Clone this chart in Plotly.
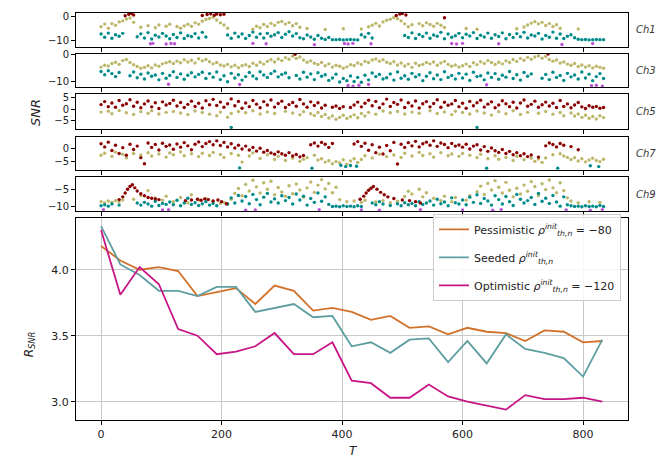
import plotly.graph_objects as go

N = None
# time steps for scatter panels (every 6th step)
T_GRID = list(range(0, 835, 6))
# time steps for R_SNR curves
T_LINE = [0, 32, 64, 96, 128, 160, 192, 224, 256, 288, 320, 352, 384, 416,
          448, 480, 512, 544, 576, 608, 640, 672, 704, 736, 768, 800, 832]

PESSIMISTIC = [4.18, 4.07, 4.00, 4.02, 3.99, 3.80, 3.83, 3.86, 3.74, 3.88, 3.84, 3.69, 3.71, 3.68,
               3.62, 3.65, 3.56, 3.57, 3.51, 3.56, 3.53, 3.52, 3.46, 3.54, 3.53, 3.45, 3.46]
SEEDED = [4.33, 4.04, 3.96, 3.84, 3.84, 3.80, 3.87, 3.87, 3.68, 3.71, 3.74, 3.64, 3.65, 3.42,
          3.45, 3.37, 3.47, 3.48, 3.30, 3.46, 3.29, 3.51, 3.40, 3.37, 3.33, 3.19, 3.47]
OPTIMISTIC = [4.30, 3.81, 4.02, 3.89, 3.55, 3.50, 3.36, 3.38, 3.42, 3.52, 3.36, 3.36, 3.45, 3.16,
              3.14, 3.03, 3.03, 3.13, 3.04, 3.00, 2.97, 2.94, 3.05, 3.02, 3.02, 3.03, 3.00]

# ---------------- Ch1 ----------------
CH1_TEAL = [
    -7.2, -8.5, -6.8, -8.9, -7.5, -8.1, -6.9, N, N, N,
    -8.3, -7.1, -8.8, -6.6, -9.2, -7.7, -8.4, -6.9, -8.0, -9.1,
    -7.4, -8.6, -6.7, -9.0, -7.9, -8.2, -7.0, -8.8, -6.5, -8.4,
    N, N, N, N, N, -7.6, -8.9, -6.8, -8.3, -7.2,
    -9.0, -7.8, -6.4, -8.5, -7.1, -8.8, -6.9, -8.1, -7.5, -6.6,
    -8.6, -7.3, -6.2, -8.0, -7.0, -8.7, -9.1, -7.6, -8.4, -9.3,
    -7.8, -8.9, -9.4, -8.6, -9.5, -9.5, -9.4, -9.6, -9.5, -9.4,
    -9.5, -9.6, -7.5, -8.4, -6.9, -8.8, N, N, N, N,
    N, N, N, N, -7.8, -8.6, -6.7, -9.0, -7.4, -8.2,
    -6.8, -8.9, -7.6, -8.1, -6.5, -9.1, -7.2, -8.5, -7.9, -6.9,
    -8.7, -7.3, -8.0, -6.6, -9.0, -7.7, -8.4, -6.8, -8.9, -7.5,
    -8.2, -6.7, -9.1, -7.4, -8.6, -7.0, -8.3, -6.5, -8.8, -7.6,
    -8.0, -6.9, -9.2, -7.8, -8.5, -6.4, -8.9, -7.2, -9.0, -8.1,
    -7.5, -8.7, -9.3, -9.5, -9.4, -9.6, -9.5, -9.4, -9.5, -9.5]
CH1_KHAKI = [
    -4.2, -3.1, -4.8, -2.9, -3.6, -2.2, -1.8, -1.0, -0.6, -2.4,
    N, -4.4, N, -3.8, N, -4.6, -3.5, N, -4.0, -3.2,
    N, -4.1, -4.8, -3.9, -3.2, -4.0, -2.6, -3.1, -1.9, -1.2,
    -0.8, -0.3, -1.4, -2.6, -3.5, -4.8, N, N, N, N,
    N, N, -5.2, -4.0, -4.6, -3.3, -4.1, -2.8, -3.6, -2.4,
    -2.0, -3.1, -2.5, -3.8, -2.9, -4.4, N, -4.9, N, N,
    N, N, -5.3, N, N, N, N, -5.0, N, N,
    N, N, -5.1, N, -4.2, -3.6, -2.8, -3.9, -2.2, -1.5,
    -1.1, -0.4, -0.9, -1.8, -3.0, -4.2, -3.4, N, -2.9, -3.8,
    -2.6, -3.3, -4.0, -2.8, -3.6, -4.5, N, N, N, N,
    N, -4.9, N, N, -5.2, N, N, N, N, N,
    N, N, N, N, N, -5.0, N, -4.3, -3.5, -2.7,
    -2.1, -3.0, -2.4, -3.7, -2.9, -4.1, -3.4, -4.8, N, N,
    N, N, -5.1, N, N, N, N, N, N, N]
CH1_RED_T = [40, 46, 50, 54, 168, 176, 182, 188, 192, 198, 204, 490, 496, 500, 506, 570]
CH1_RED = [0.3, 0.9, 1.2, 0.6, 0.4, 0.8, 1.1, 0.5, 1.0, 0.7, 0.9, 0.4, 1.0, 1.2, 0.6, -0.5]
CH1_VIO_T = [82, 86, 108, 116, 122, 252, 274, 354, 404, 410, 418, 448, 582, 590, 600, 660, 765, 816]
CH1_VIO = [-11.2, -11.0, -11.3, -11.1, -11.2, -11.0, -11.2, -11.6, -11.1, -11.3, -11.0,
           -11.2, -11.1, -11.3, -11.0, -11.2, -11.5, -11.1]

# ---------------- Ch3 ----------------
CH3_TEAL = [
    -6.2, -7.4, -5.9, -7.0, -8.1, -6.6, N, N, -7.8, -6.4,
    -8.5, -7.2, -9.0, -6.8, -8.0, -7.5, -9.3, -6.9, -8.7, -7.7,
    -6.3, -8.4, -7.1, -9.1, -7.6, -6.7, -8.2, -7.3, -6.5, -8.8,
    -7.0, -8.3, -6.4, -9.2, -7.8, -10.0, -6.9, -8.6, -7.4, -9.4,
    -8.1, -6.6, -7.9, -8.9, -6.3, -7.5, -8.4, -7.0, -6.1, -8.2,
    -7.3, -6.8, -8.5, N, -7.7, -9.0, -6.5, -8.3, -7.1, -9.2,
    -6.7, -8.0, -7.4, -9.5, -8.6, -7.2, -10.1, -8.8, -9.6, -7.9,
    -9.9, -8.4, -10.2, -7.6, -9.3, -6.8, -8.1, -7.3, -9.0, -8.5,
    -7.1, -9.4, -6.4, -8.7, -7.8, -9.1, -6.9, -8.2, -7.4, -9.6,
    -8.0, -6.7, -8.9, -7.5, -9.2, -6.3, -8.4, -7.7, -9.0, -6.9,
    -8.6, -7.2, -9.5, -6.5, -8.1, -7.8, -9.3, -6.8, -8.4, -7.0,
    -9.1, -7.6, -8.3, -6.2, -8.8, -7.4, -9.4, -6.6, -8.0, -7.1,
    N, N, -8.7, -7.3, -9.2, -6.5, -8.4, -7.7, -9.5, -6.9,
    -8.2, -7.5, -9.0, -6.4, -8.6, -7.2, -9.6, -8.1, -7.0, -8.8]
CH3_KHAKI = [
    -4.6, -3.9, -4.2, -3.3, -2.8, -3.6, -2.2, -1.8, -2.9, -3.7,
    -4.4, -5.0, -4.7, -4.1, -4.9, -3.8, -4.3, -3.4, -3.0, -2.6,
    -3.3, -2.4, -3.0, -1.9, -2.7, -2.1, -3.1, -1.5, -2.3, -1.8,
    -2.6, -3.4, -2.9, -3.8, -4.2, -3.6, -4.5, -3.9, -4.8, -4.1,
    -3.7, -4.4, -3.2, -3.9, -2.8, -3.5, -2.5, -1.9, -2.7, -1.6,
    -2.2, -1.1, -1.7, -0.6, -1.4, -0.9, -2.0, -2.8, -2.3, -3.2,
    -3.6, -2.9, -4.1, -3.4, -4.6, -3.9, -4.3, -5.0, -4.5, -3.7,
    -4.0, -3.1, -3.6, -2.5, -2.9, -2.0, -1.6, -2.4, -1.9, -2.8,
    -3.3, -2.6, -3.8, -3.1, -4.2, -3.5, -4.7, -3.2, -4.0, -3.6,
    -2.9, -3.4, -2.7, -3.9, -3.1, -2.5, -3.6, -4.3, -3.8, -4.6,
    -4.1, -3.5, -4.4, -3.0, -3.7, -2.6, -3.3, -2.2, -2.9, -3.6,
    -2.8, -3.4, -2.3, -2.9, -1.8, -2.5, -1.4, -2.1, -1.0, -1.7,
    -0.9, -0.4, -1.3, -0.7, -1.8, -2.4, -2.0, -3.1, -2.7, -3.5,
    -3.9, -3.3, -4.4, -3.8, -4.6, -4.1, -4.9, -4.3, -4.7, -5.0]
CH3_RED_T = [322, 742]
CH3_RED = [0.1, 0.2]
CH3_VIO_T = [112, 230, 410, 418, 428, 444, 640, 814, 822, 832]
CH3_VIO = [-10.9, -11.0, -11.4, -11.6, -11.3, -11.0, -11.1, -11.5, -11.3, -11.6]

# ---------------- Ch5 ----------------
CH5_RED = [
    2.1, 3.4, 1.2, 2.8, 0.9, 3.9, 1.8, 2.5, 4.2, 1.4,
    3.1, 0.7, 2.4, 3.7, 1.1, 2.9, 0.4, 3.3, 1.9, 2.6,
    4.0, 1.5, 3.0, 0.8, 2.2, 3.6, 1.3, 2.7, 0.6, 3.8,
    2.0, 4.4, 1.7, 3.2, 0.9, 2.5, 4.6, 1.6, 3.5, 0.5,
    2.8, 1.2, 3.9, 2.3, 0.7, 3.4, 1.9, 4.1, 1.0, 2.6,
    3.6, 0.8, 2.1, 3.0, 1.4, 4.3, 2.4, 0.9, 3.3, 1.7,
    2.9, 0.6, 1.8, N, 0.9, 1.5, 0.4, 1.2, N, 0.8,
    1.9, 3.2, 1.1, 2.7, 4.0, 1.6, 3.5, 0.7, 2.4, 4.5,
    1.3, 3.0, 2.2, 4.1, 0.8, 2.9, 1.5, 3.7, 0.6, 2.5,
    3.4, 1.1, 2.6, 4.2, 0.9, 3.1, 1.8, 2.4, 3.9, 1.2,
    2.7, 0.5, 3.5, 1.6, 2.9, 4.0, 1.0, 2.3, 3.3, 0.7,
    1.9, 3.8, 2.5, 1.2, 3.1, 0.6, 2.8, 4.1, 1.4, 2.2,
    3.6, 0.9, 2.0, 3.2, 1.5, 2.7, 0.8, 3.9, 1.3, 2.4,
    0.7, 1.9, 3.0, 1.1, 0.4, 1.6, 0.9, 1.3, 0.5, 0.8]
CH5_KHAKI = [
    -1.2, N, -0.8, -1.9, N, -0.5, N, -1.5, N, -2.2,
    N, -1.0, N, -1.7, -0.6, N, -2.0, N, -1.3, N,
    -0.9, N, -1.6, N, -2.3, N, -0.7, N, -1.4, N,
    -2.1, N, -2.8, -1.2, N, -3.4, -1.8, N, -0.9, N,
    -1.5, N, -0.6, N, -2.0, N, -1.1, N, -1.8, N,
    N, -0.8, N, -1.6, N, -2.4, -1.0, N, -1.9, -2.7,
    -1.4, -3.1, -2.2, -3.8, -2.9, -4.3, -3.5, -2.6, -4.0, -3.2,
    -2.4, -3.7, -1.8, -2.9, -1.3, N, -2.1, N, -0.7, N,
    -1.5, N, -0.9, N, -2.0, N, -1.2, N, -1.7, N,
    N, -0.6, N, -1.8, N, -1.1, N, -2.3, -0.8, N,
    -1.4, N, -2.0, N, -0.7, N, -1.6, N, -2.5, N,
    -1.0, N, -1.9, N, -0.6, N, -2.2, N, -1.3, N,
    N, -1.7, N, -0.9, N, -2.1, N, -1.4, -2.8, N,
    -1.6, -2.9, -2.0, -3.5, -2.6, -3.9, -3.1, -4.2, -2.8, -3.6]
CH5_TEAL_T = [216, 624]
CH5_TEAL = [-7.9, -7.9]

# ---------------- Ch7 ----------------
CH7_RED = [
    1.8, 0.6, 2.4, -0.8, 1.2, -1.9, 0.3, -2.6, 1.6, -0.4,
    0.9, -3.5, -5.8, 2.1, 0.4, 1.5, -0.6, 2.0, 0.8, 1.3,
    -0.3, 1.7, 0.5, 2.2, 1.0, -0.5, 1.6, 2.5, 0.7, 1.9,
    2.6, 1.4, 2.9, 1.1, 2.3, 0.6, 1.8, 0.2, 1.2, -0.2,
    0.9, -0.6, 0.4, -1.0, 0.1, -1.4, -0.8, -1.7, -2.2, -1.3,
    -2.0, -2.6, -1.6, -2.9, -2.3, -3.2, -2.7, N, 1.4, 2.1,
    0.9, 2.3, 1.6, 0.4, 1.9, N, N, N, N, N,
    1.7, 2.6, 0.8, 2.0, -0.7, 1.4, -1.6, 0.5, -2.1, 1.1,
    -0.9, 2.3, -5.9, 1.6, 0.4, 2.2, 1.0, 2.7, 0.6, 1.8,
    2.4, 1.2, 2.9, 0.8, 2.1, 1.5, 0.3, 1.9, 0.9, 1.3,
    0.5, 1.6, -0.2, 0.9, 1.4, -0.6, 0.7, -1.1, 0.2, -0.9,
    -1.5, -0.4, -1.9, -1.1, -2.4, -1.6, -2.8, -2.0, -3.1, -2.5,
    N, -3.3, N, 1.0, 2.1, 1.5, 0.6, 1.9, 1.2, N,
    0.7, N, -0.5, N, N, N, N, N, N, N]
CH7_KHAKI = [
    -2.6, -1.8, N, -3.0, -1.4, N, -2.2, -3.6, N, -1.9,
    N, -2.5, N, -1.6, -2.9, N, -2.1, N, -3.3, -1.7,
    -2.4, N, -1.3, -2.8, N, -2.0, N, -3.1, -1.8, N,
    -2.7, -1.5, N, -2.3, -3.4, N, -1.9, N, -2.6, -5.2,
    N, -2.9, -1.7, N, -3.8, N, -2.4, N, -4.2, -3.0,
    N, -4.6, N, -3.7, N, -4.9, -4.1, -3.5, N, -2.6,
    -4.4, -3.9, -5.2, -4.7, -5.8, -5.0, -5.5, -4.3, -6.0, -4.8,
    -3.9, -5.3, -4.2, -2.8, N, -3.6, N, -2.2, N, -3.1,
    N, -2.5, N, -3.4, -1.8, N, -2.9, N, -1.5, -2.7,
    N, -2.0, -3.3, N, -1.6, N, -2.8, -2.1, N, -3.0,
    -1.9, N, -2.6, N, -3.5, -2.2, N, -3.9, N, -2.8,
    -4.1, N, -3.4, N, -4.6, -3.0, N, -4.3, N, -3.7,
    -4.9, -4.0, -5.3, -3.6, N, -2.4, N, -2.0, -2.9, -3.4,
    -4.2, -3.5, -4.8, -3.9, -5.1, -4.4, -3.7, -4.6, -5.0, -4.1]
CH7_TEAL_T = [230, 350, 398, 406, 414, 424, 640, 758, 812, 826]
CH7_TEAL = [-7.4, -7.5, -6.4, -6.9, -6.5, -6.8, -7.5, -7.5, -6.6, -6.9]

# ---------------- Ch9 ----------------
CH9_TEAL = [
    -9.8, -9.5, -9.9, -9.3, N, -9.6, N, N, N, N,
    -9.0, -9.6, -8.8, -9.3, -9.9, -8.5, -9.7, -9.1, -9.4, -8.7,
    -9.5, -8.2, -9.8, -9.0, -7.6, -9.4, -8.9, -9.7, -9.2, -8.6,
    -9.6, -9.1, -9.8, N, N, -9.3, -7.5, -9.0, -6.8, -8.4,
    -7.1, -9.2, -6.5, -8.0, -9.5, -7.3, -6.2, -8.7, -7.8, -9.0,
    -6.9, -8.3, -7.4, -9.3, -6.4, -8.1, -7.0, -9.6, -7.7, -8.8,
    -6.1, -8.5, -7.2, -9.4, -10.0, -9.9, -10.1, -9.8, -10.0, -9.9,
    -10.1, -9.8, -10.0, N, N, -9.0, -9.5, -8.6, -9.3, N,
    -9.7, N, -9.2, -9.8, -8.9, -9.5, -9.1, -9.8, -8.6, -9.4,
    -9.0, -8.4, -9.6, -7.9, -9.2, -8.7, -9.8, -7.5, -8.9, -9.3,
    -8.1, -9.5, -7.3, -8.8, -6.6, -9.1, -7.7, -8.4, -9.6, -6.9,
    -8.0, -9.3, -7.1, -8.6, -9.7, -6.5, -7.9, -9.0, -8.3, -7.4,
    -9.4, -6.2, -8.5, -7.6, -9.1, -6.8, -8.7, -9.9, -7.2, -9.5,
    -9.8, -10.0, -9.9, -10.1, -9.8, -10.0, -9.9, -10.1, -9.7, -10.0]
CH9_KHAKI = [
    -8.6, -9.0, -8.4, -8.8, -8.3, -8.7, -8.1, N, N, -7.9,
    N, -6.8, N, -5.4, N, -7.5, N, -8.2, -7.0, N,
    -8.6, N, -7.4, N, -8.9, -6.6, N, -8.1, N, -7.7,
    N, -8.5, N, -9.1, -8.8, -9.3, -7.9, -6.2, -4.8, -6.9,
    -3.6, -5.5, -2.4, -4.3, -6.1, -3.1, -5.0, -2.7, -6.6, -4.5,
    -5.8, -7.0, -4.0, -6.3, -3.5, -5.2, -7.3, -4.6, -2.9, -5.9,
    -3.8, -2.2, -4.9, -3.3, -6.0, -4.4, -8.0, N, -8.6, N,
    -8.4, N, -8.8, -8.2, N, N, -8.7, N, -8.3, N,
    -8.9, N, -8.5, N, -7.1, -5.6, -6.4, N, -5.0, -7.2,
    -6.0, N, -7.6, N, -8.3, -7.0, N, -8.6, -7.4, N,
    N, -8.2, -6.9, N, -5.7, -4.1, -6.5, -3.3, -5.2, -2.5,
    -4.4, -6.1, -3.0, -5.3, -7.2, -4.7, -6.4, -3.8, -5.6, -2.8,
    -4.2, -6.8, -3.4, -5.1, -2.3, -4.6, -6.0, -3.1, -5.4, -7.5,
    -8.4, N, -8.9, N, N, -8.6, N, N, -8.8, N]
CH9_RED_T = [30, 36, 40, 44, 48, 52, 56, 60, 66, 72, 78, 84, 90, 96,
             140, 150, 160, 166, 172, 178, 186, 194, 200, 208,
             430, 436, 440, 444, 448, 452, 458, 464, 470, 476,
             486, 500, 512, 522, 530]
CH9_RED = [-8.0, -7.2, -6.1, -5.0, -4.2, -3.7, -4.6, -5.5, -6.3, -6.9, -7.4, -7.6, -7.8, -8.0,
           -8.3, -8.1, -7.9, -8.2, -7.8, -8.0, -8.4, -8.1, -8.6, -9.2,
           -7.9, -7.0, -6.1, -5.3, -4.7, -4.2, -5.0, -5.9, -6.6, -7.2,
           -7.7, -8.1, -8.3, -8.6, -9.0]
CH9_VIO_T = [4, 102, 112, 240, 256, 362, 432, 462, 530, 600, 650, 664, 772, 812, 832]
CH9_VIO = [-10.9, -11.0, -10.9, -11.1, -11.0, -10.9, -11.0, -11.1, -10.9, -11.0,
           -11.1, -10.9, -11.0, -11.1, -10.9]

CH_LABELS = ["Ch1", "Ch3", "Ch5", "Ch7", "Ch9"]
LINE_NAMES = ["Pessimistic <i>ρ</i><sup><i>init</i></sup><sub><i>th,n</i></sub> = −80",
              "Seeded <i>ρ</i><sup><i>init</i></sup><sub><i>th,n</i></sub>",
              "Optimistic <i>ρ</i><sup><i>init</i></sup><sub><i>th,n</i></sub> = −120"]

# ---------------- styling ----------------
W, H = 668, 459
TEAL, KHAKI, DRED, VIO = "#008B8B", "#BDB76B", "#8B0000", "#BA55D3"
LINE_COLORS = ["#D2722A", "#5F9EA0", "#C71585"]
FONT = "DejaVu Sans, Verdana, sans-serif"

X0, X1 = 68, 620
PANELS_PX = [(1, 35), (42, 76), (83, 118.5), (126, 160), (167, 201.5)]
BOTTOM_PX = (208.5, 412)
Y_RANGES = [[-12.35, 1.45], [-12.0, 0.4], [-8.7, 6.7], [-8.3, 4.5], [-11.4, -1.5]]
Y_TICKS = [[-10, 0], [-10, 0], [-5, 0, 5], [-5, 0], [-10, -5]]
X_RANGE = [-41.6, 874.6]


def ydom(px):
    return [1 - px[1] / H, 1 - px[0] / H]


def grid_pts(vals):
    xs, ys = [], []
    for t, v in zip(T_GRID, vals):
        if v is not None:
            xs.append(t)
            ys.append(v)
    return xs, ys


panel_series = [
    [(grid_pts(CH1_KHAKI), KHAKI), (grid_pts(CH1_TEAL), TEAL),
     ((CH1_RED_T, CH1_RED), DRED), ((CH1_VIO_T, CH1_VIO), VIO)],
    [(grid_pts(CH3_KHAKI), KHAKI), (grid_pts(CH3_TEAL), TEAL),
     ((CH3_RED_T, CH3_RED), DRED), ((CH3_VIO_T, CH3_VIO), VIO)],
    [(grid_pts(CH5_KHAKI), KHAKI), (grid_pts(CH5_RED), DRED),
     ((CH5_TEAL_T, CH5_TEAL), TEAL)],
    [(grid_pts(CH7_KHAKI), KHAKI), (grid_pts(CH7_RED), DRED),
     ((CH7_TEAL_T, CH7_TEAL), TEAL)],
    [(grid_pts(CH9_KHAKI), KHAKI), (grid_pts(CH9_TEAL), TEAL),
     ((CH9_RED_T, CH9_RED), DRED), ((CH9_VIO_T, CH9_VIO), VIO)],
]

fig = go.Figure()
layout = {}
annotations = []
for i, series in enumerate(panel_series):
    n = i + 1
    xa = "x" if n == 1 else f"x{n}"
    ya = "y" if n == 1 else f"y{n}"
    for (xs, ys), col in series:
        fig.add_trace(go.Scatter(x=xs, y=ys, mode="markers", xaxis=xa, yaxis=ya,
                                 marker=dict(size=3.4, color=col, line=dict(width=0)),
                                 showlegend=False, hoverinfo="skip"))
    key = "" if n == 1 else str(n)
    layout["xaxis" + key] = dict(domain=[X0 / W, X1 / W], range=X_RANGE, anchor=ya,
                                 showticklabels=False, ticks="outside", ticklen=4,
                                 tickwidth=1, tickcolor="black", tickvals=[0, 200, 400, 600, 800],
                                 showgrid=False, zeroline=False, showline=True, mirror=True,
                                 linecolor="black", linewidth=1)
    layout["yaxis" + key] = dict(domain=ydom(PANELS_PX[i]), range=Y_RANGES[i], anchor=xa,
                                 tickvals=Y_TICKS[i], ticks="outside", ticklen=4, tickwidth=1,
                                 tickcolor="black", showgrid=False, zeroline=False,
                                 showline=True, mirror=True, linecolor="black", linewidth=1,
                                 tickfont=dict(size=10, color="#222", family=FONT))
    yc = 1 - (PANELS_PX[i][0] + PANELS_PX[i][1]) / 2 / H
    annotations.append(dict(text=f"<i>{CH_LABELS[i]}</i>", x=626 / W, y=yc, xref="paper",
                            yref="paper", xanchor="left", yanchor="middle", showarrow=False,
                            font=dict(size=10, color="#333", family=FONT)))

for name, vals, col in zip(LINE_NAMES, [PESSIMISTIC, SEEDED, OPTIMISTIC], LINE_COLORS):
    fig.add_trace(go.Scatter(x=T_LINE, y=vals, mode="lines", name=name, xaxis="x6", yaxis="y6",
                             line=dict(color=col, width=1.8), legendgroup=name))

layout["xaxis6"] = dict(domain=[X0 / W, X1 / W], range=X_RANGE, anchor="y6",
                        tickvals=[0, 200, 400, 600, 800], ticks="outside", ticklen=4,
                        tickwidth=1, tickcolor="black", showgrid=True, gridcolor="#c8c8c8",
                        gridwidth=1, zeroline=False, showline=True, mirror=True,
                        linecolor="black", linewidth=1,
                        tickfont=dict(size=11, color="#222", family=FONT))
layout["yaxis6"] = dict(domain=ydom(BOTTOM_PX), range=[2.865, 4.39], anchor="x6",
                        tickvals=[3.0, 3.5, 4.0], tickformat=".1f", ticks="outside", ticklen=4,
                        tickwidth=1, tickcolor="black", showgrid=True, gridcolor="#c8c8c8",
                        gridwidth=1, zeroline=False, showline=True, mirror=True,
                        linecolor="black", linewidth=1,
                        tickfont=dict(size=11, color="#222", family=FONT))

annotations += [
    dict(text="<i>SNR</i>", x=28 / W, y=1 - 102 / H, xref="paper", yref="paper",
         textangle=-90, showarrow=False, xanchor="center", yanchor="middle",
         font=dict(size=13, color="#222", family=FONT)),
    dict(text="<i>R</i><sub><i>SNR</i></sub>", x=22 / W, y=1 - 336 / H, xref="paper",
         yref="paper", textangle=-90, showarrow=False, xanchor="center", yanchor="middle",
         font=dict(size=12, color="#222", family=FONT)),
    dict(text="<i>T</i>", x=345 / W, y=1 - 444 / H, xref="paper", yref="paper",
         showarrow=False, xanchor="center", yanchor="middle",
         font=dict(size=12, color="#222", family=FONT)),
]

fig.update_layout(
    width=W, height=H, margin=dict(l=0, r=0, t=0, b=0),
    plot_bgcolor="white", paper_bgcolor="white",
    font=dict(family=FONT, color="#222"),
    annotations=annotations,
    legend=dict(x=613 / W, xanchor="right", y=1 - 204 / H, yanchor="top",
                bgcolor="rgba(255,255,255,0.85)", bordercolor="#cccccc", borderwidth=1,
                font=dict(size=11, family=FONT, color="#222"), tracegroupgap=9,
                itemwidth=30),
    **layout,
)

fig.write_html("out.html")
